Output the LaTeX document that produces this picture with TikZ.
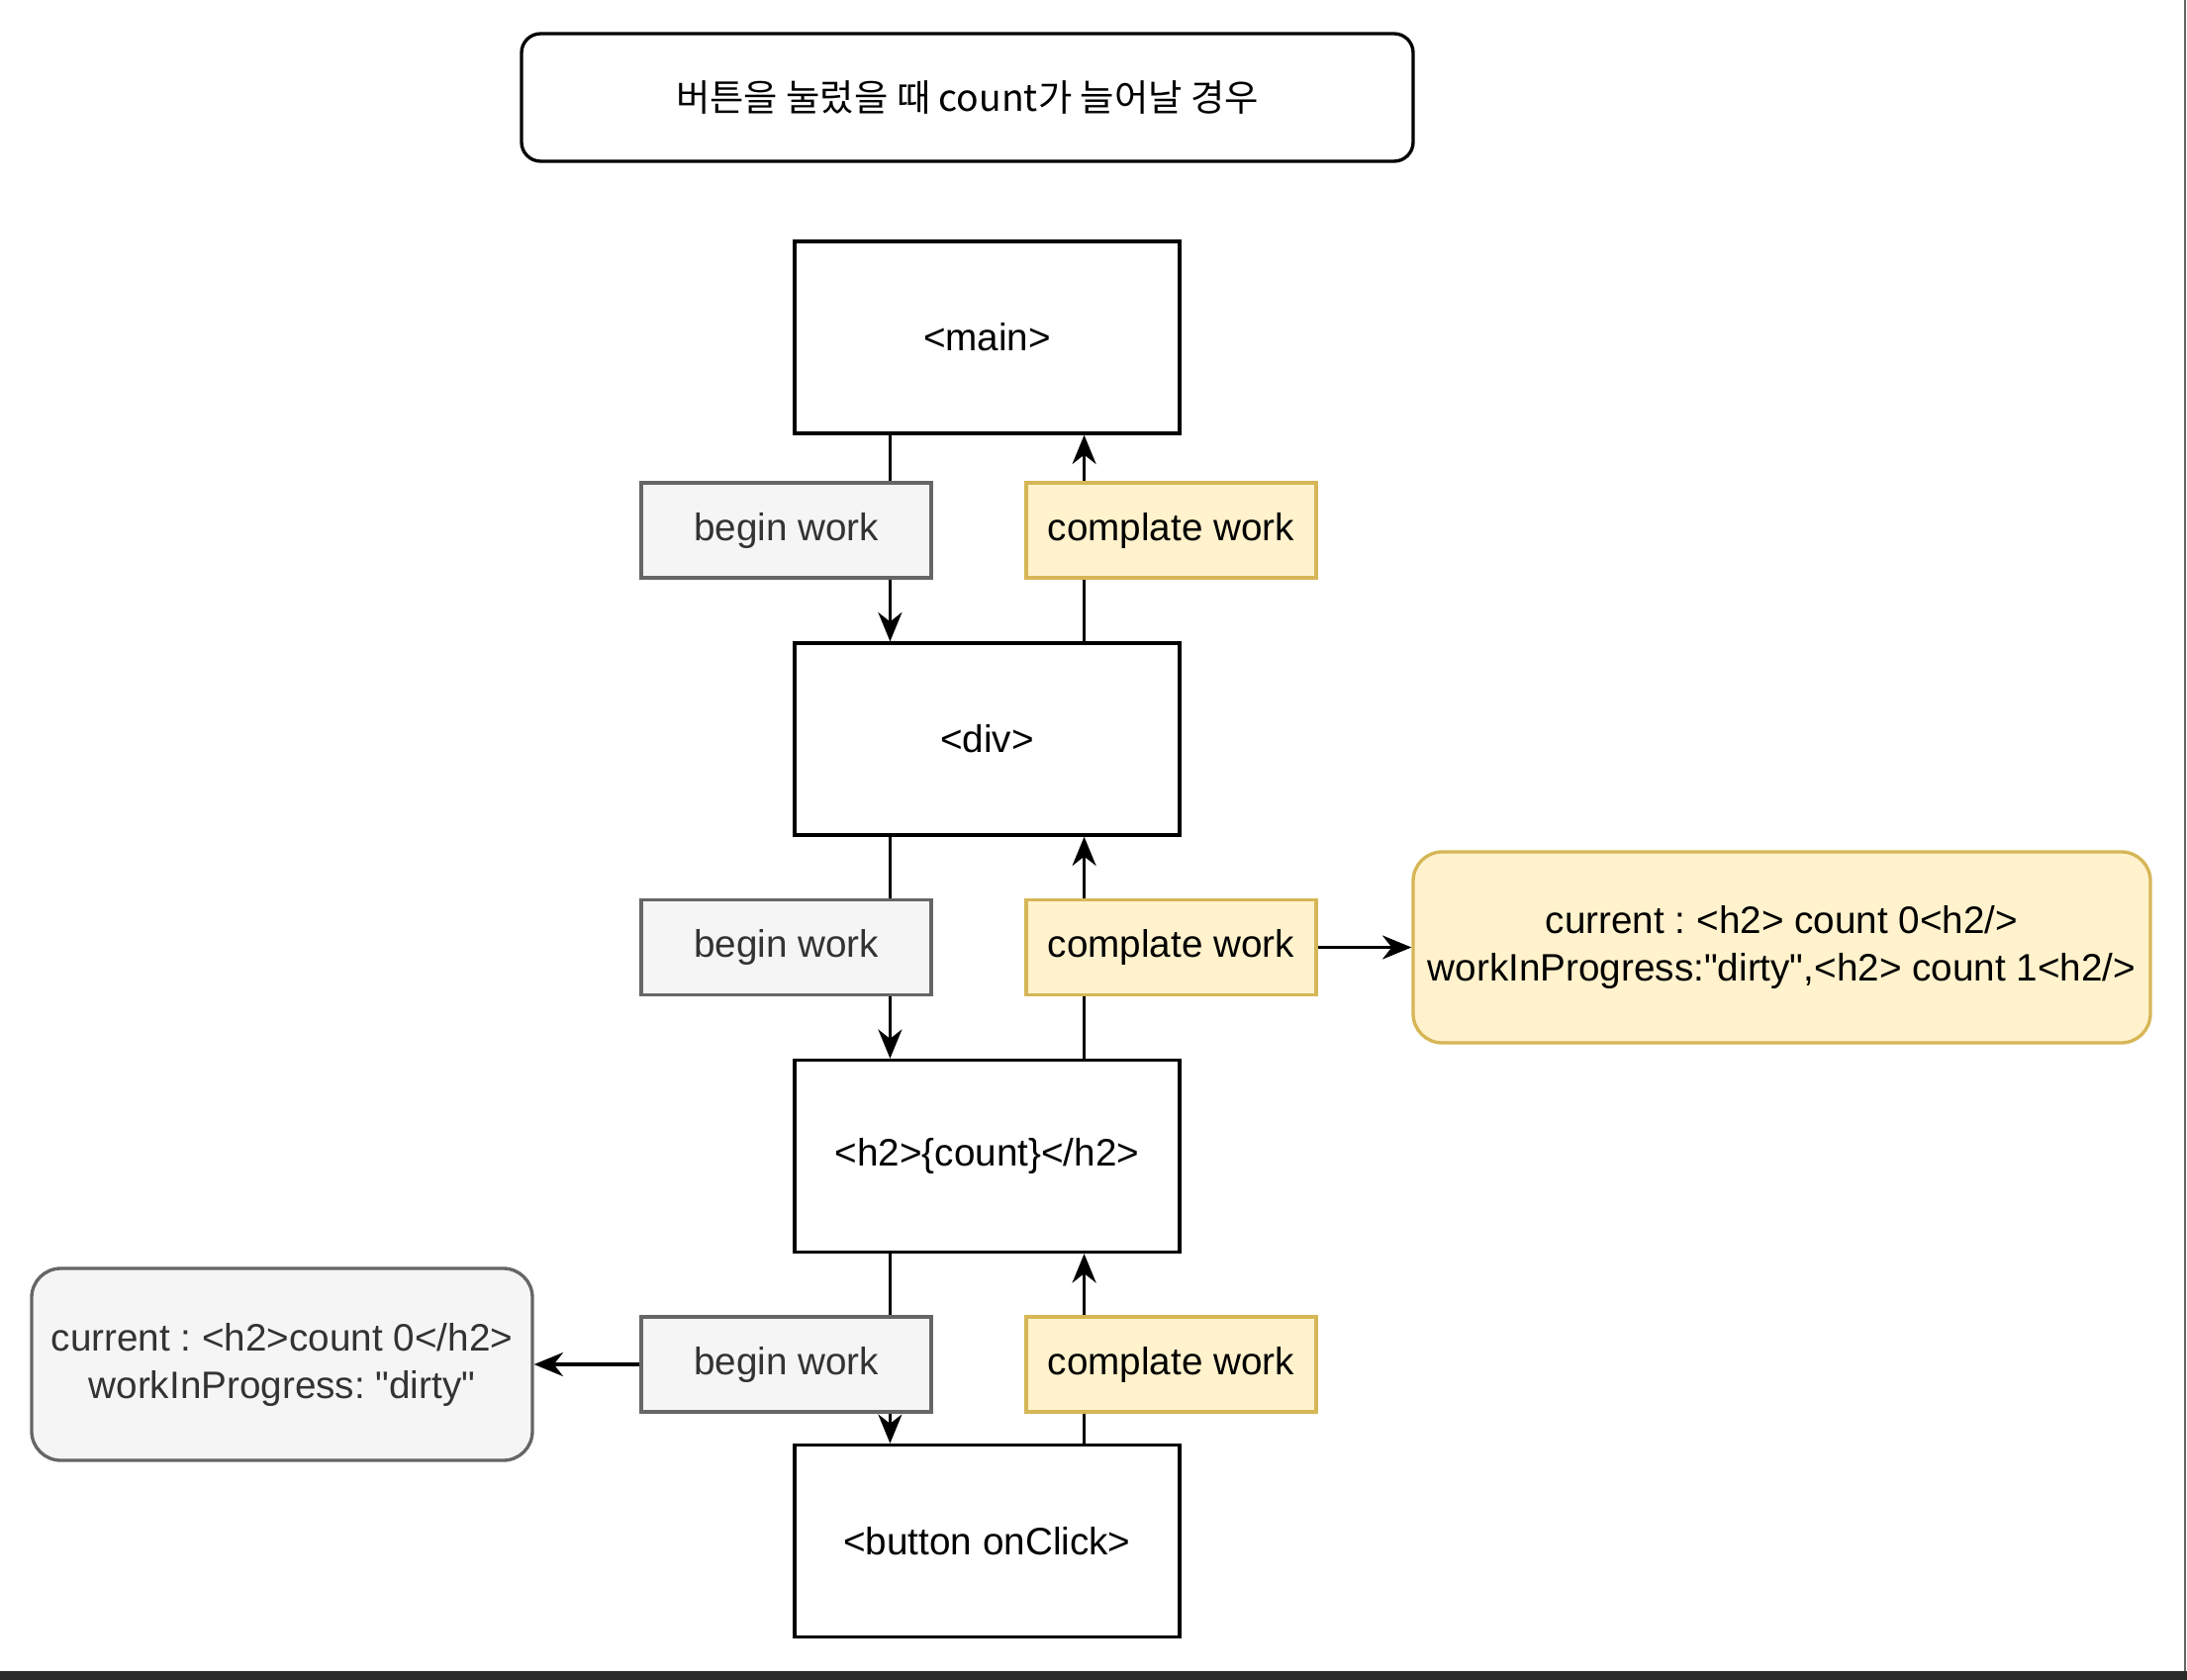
\documentclass[tikz,border=0pt]{standalone}
\usepackage{fontspec}
\setmainfont{Liberation Sans}
\newfontfamily\kofont{Noto Sans CJK KR}
\usetikzlibrary{arrows.meta,calc,backgrounds}

\definecolor{grayfill}{HTML}{F5F5F5}
\definecolor{graydraw}{HTML}{666666}
\definecolor{graytext}{HTML}{333333}
\definecolor{yellowfill}{HTML}{FFF2CC}
\definecolor{yellowdraw}{HTML}{D6B656}
\definecolor{framebar}{HTML}{2B2B2B}

\tikzset{
	txt/.style={font=\fontsize{29}{36}\selectfont\frenchspacing, align=center},
	elem/.style={draw, line width=2.5pt, minimum width=291.75pt, minimum height=145.5pt, inner sep=0pt, txt},
	beginbox/.style={draw=graydraw, fill=grayfill, text=graytext, line width=2.5pt, minimum width=219.75pt, minimum height=72pt, inner sep=0pt, txt},
	donebox/.style={draw=yellowdraw, fill=yellowfill, line width=2.5pt, minimum width=219.75pt, minimum height=72pt, inner sep=0pt, txt},
	conn/.style={line width=2.5pt, -{Stealth[length=22pt,width=18pt,inset=7pt]}},
}

\begin{document}
\begin{tikzpicture}[x=0.75pt,y=0.75pt,yscale=-1,xscale=1]
			\useasboundingbox (0,0) rectangle (2210,1698);

			% Title
			\node [draw, line width=2.5pt, rounded corners=14.5pt, minimum width=675.75pt, minimum height=96.75pt, inner sep=0pt] (title) at (977.5,98.5) {\kofont\fontsize{28}{34}\selectfont 버튼을 눌렀을 때 count가 늘어날 경우};

			% Element boxes
			\node [elem] (main) at (997.5,341) {<main>};
			\node [elem] (div) at (997.5,747) {<div>};
			\node [elem] (htwo) at (997.5,1168.5) {<h2>\{count\}</h2>};
			\node [elem] (button) at (997.5,1557.5) {<button onClick>};

			% begin work
			\node [beginbox] (beginA) at (794.5,536) {begin work};
			\node [beginbox] (beginB) at (794.5,957.5) {begin work};
			\node [beginbox] (beginC) at (794.5,1379) {begin work};

			% complate work
			\node [donebox] (doneA) at (1183.5,536) {complate work};
			\node [donebox] (doneB) at (1183.5,957.5) {complate work};
			\node [donebox] (doneC) at (1183.5,1379) {complate work};

			% Notes
			\node [draw=yellowdraw, fill=yellowfill, line width=2.5pt, rounded corners=22pt, minimum width=558.75pt, minimum height=144.75pt, inner sep=0pt, txt] (noteY) at (1800.5,957.5) {current : <h2> count 0<h2/>\\workInProgress:\textquotedbl dirty\textquotedbl,<h2> count 1<h2/>};
			\node [draw=graydraw, fill=grayfill, text=graytext, line width=2.5pt, rounded corners=22pt, minimum width=379.5pt, minimum height=145.5pt, inner sep=0pt, txt] (noteG) at (285,1379) {current : <h2>count 0</h2>\\workInProgress: \textquotedbl dirty\textquotedbl};

			% Connectors
			\begin{pgfonlayer}{background}
			\draw [conn] ($(main.south west)!.25!(main.south east)$) -- ($(div.north west)!.25!(div.north east)$);
			\draw [conn] ($(div.north west)!.75!(div.north east)$) -- ($(main.south west)!.75!(main.south east)$);
			\draw [conn] ($(div.south west)!.25!(div.south east)$) -- ($(htwo.north west)!.25!(htwo.north east)$);
			\draw [conn] ($(htwo.north west)!.75!(htwo.north east)$) -- ($(div.south west)!.75!(div.south east)$);
			\draw [conn] ($(htwo.south west)!.25!(htwo.south east)$) -- ($(button.north west)!.25!(button.north east)$);
			\draw [conn] ($(button.north west)!.75!(button.north east)$) -- ($(htwo.south west)!.75!(htwo.south east)$);
			\end{pgfonlayer}
			\draw [conn] (doneB.east) -- (noteY.west);
			\draw [conn] (beginC.west) -- (noteG.east);

			% Frame
			\draw [color=graydraw, line width=1pt] (2208,0) -- (2208,1689);
			\fill [framebar] (0,1689) rectangle (2210,1698);

\end{tikzpicture}
\end{document}
